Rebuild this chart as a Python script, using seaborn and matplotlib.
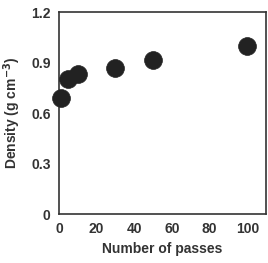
import matplotlib
matplotlib.use("Agg")
import matplotlib.pyplot as plt
import seaborn as sns
import pandas as pd

# data
passes = [1, 5, 10, 30, 50, 100]
density = [0.69, 0.80, 0.835, 0.868, 0.918, 1.0]
x_ticks = [0, 20, 40, 60, 80, 100]
y_ticks = [0, 0.3, 0.6, 0.9, 1.2]
y_tick_labels = ["0", "0.3", "0.6", "0.9", "1.2"]

df = pd.DataFrame({"passes": passes, "density": density})

sns.set_style("white")
plt.rcParams["font.family"] = ["Liberation Sans", "DejaVu Sans"]

fig = plt.figure(figsize=(2.68, 2.63), dpi=100)
ax = fig.add_axes([0.220, 0.186, 0.773, 0.768])

sns.scatterplot(data=df, x="passes", y="density", ax=ax,
                s=165, color="#222222", edgecolor="#222222", linewidth=0.5,
                zorder=3, clip_on=False)

ax.set_xlim(0, 110)
ax.set_ylim(0, 1.2)
ax.set_xticks(x_ticks)
ax.set_yticks(y_ticks)
ax.set_yticklabels(y_tick_labels)

for s in ax.spines.values():
    s.set_color("#333333")
    s.set_linewidth(1.2)

ax.tick_params(direction="in", length=3, width=1, color="#333333",
               labelsize=10, labelcolor="#333333", pad=6)
for lab in ax.get_xticklabels() + ax.get_yticklabels():
    lab.set_fontweight("bold")

ax.set_xlabel("Number of passes", fontsize=10, fontweight="bold",
              color="#333333", labelpad=4)
ax.set_ylabel("Density (g cm$^{\\mathbf{-3}}$)", fontsize=10, fontweight="bold",
              color="#333333", labelpad=6)

fig.savefig("out.png", dpi=100)
